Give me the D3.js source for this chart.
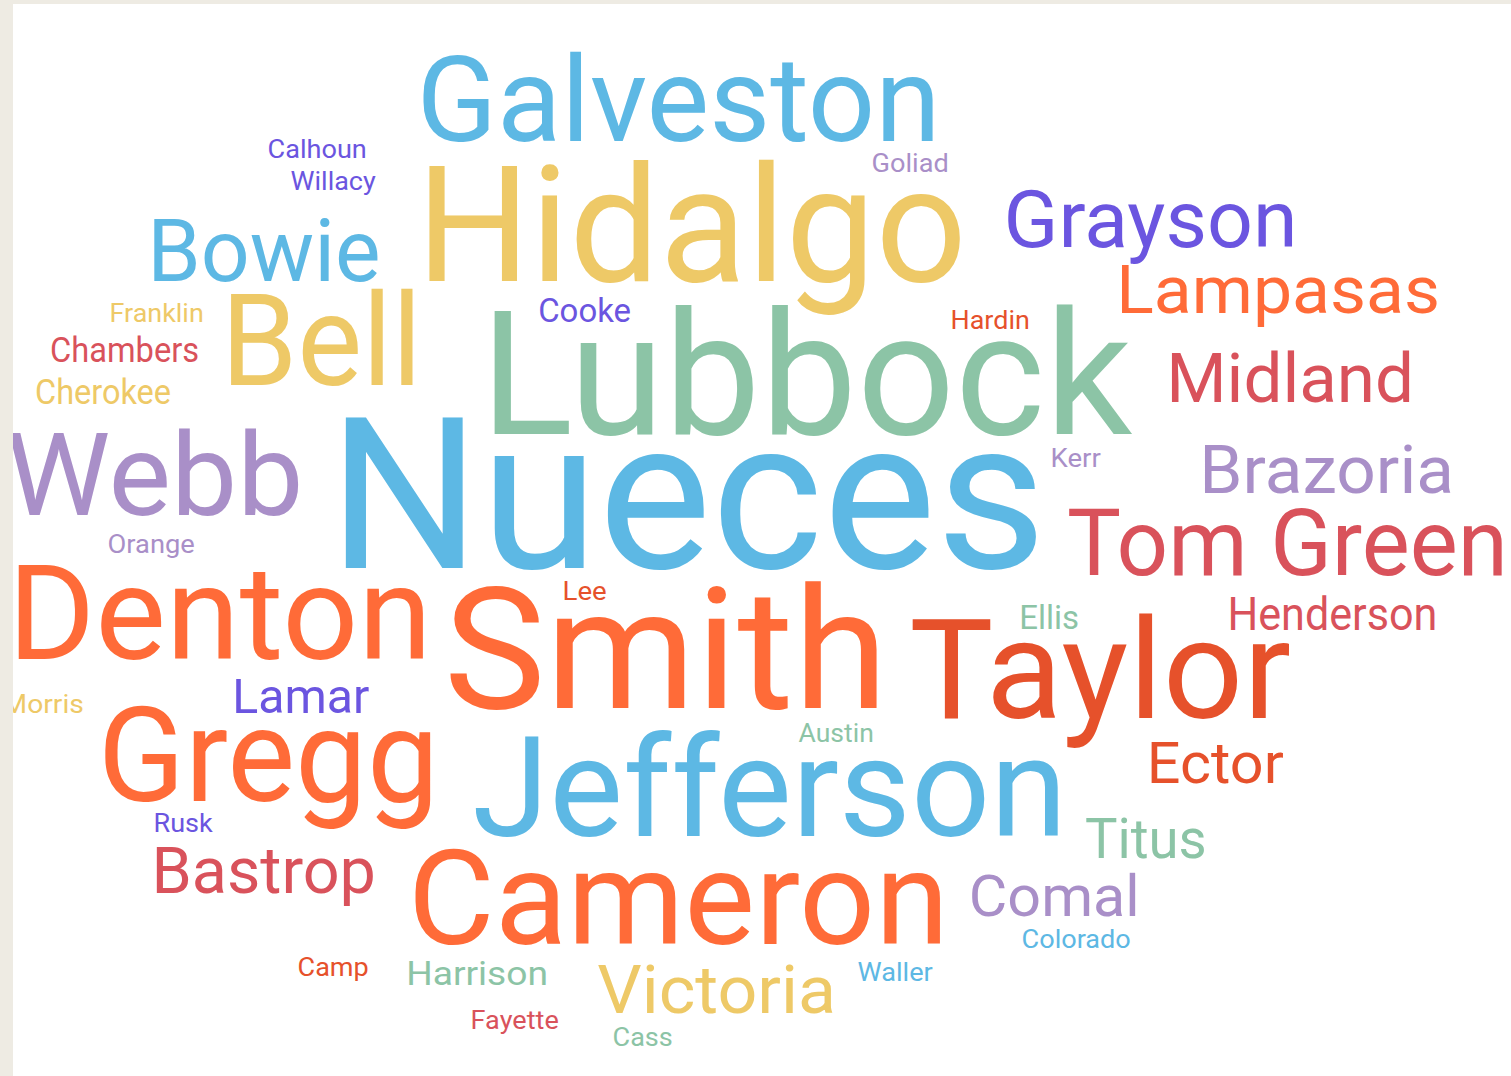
<!DOCTYPE html>
<html>
<head>
<meta charset="utf-8">
<script src="https://cdn.jsdelivr.net/npm/d3@7"></script>
<style>
  html, body { margin: 0; padding: 0; background: #eeebe3; overflow: hidden; }
  #myViz { position: absolute; left: 13px; top: 4px; right: 0; bottom: 0; background: #fff; }
  text { font-family: Roboto, "Noto Sans", sans-serif; }
</style>
</head>
<body>
<div id="myViz"></div>
<script>
// Datos: condados y su peso
const words = ['Nueces', 'Lubbock', 'Smith', 'Hidalgo', 'Jefferson', 'Taylor', 'Cameron', 'Denton',
  'Gregg', 'Bell', 'Galveston', 'Webb', 'Tom Green', 'Bowie', 'Grayson', 'Midland', 'Victoria',
  'Lampasas', 'Brazoria', 'Bastrop', 'Ector', 'Comal', 'Titus', 'Lamar', 'Henderson', 'Chambers',
  'Cherokee', 'Harrison', 'Cooke', 'Ellis', 'Calhoun', 'Willacy', 'Goliad', 'Hardin', 'Franklin',
  'Kerr', 'Orange', 'Lee', 'Morris', 'Austin', 'Rusk', 'Colorado', 'Camp', 'Waller', 'Fayette', 'Cass'];
const values = [100, 79, 77, 73, 61, 61, 57, 57,
  57, 55, 50, 48, 36, 34, 30, 24, 23,
  23, 23, 22, 18, 18, 17, 13, 12, 6,
  6, 5, 5, 5, 1, 1, 1, 1, 1,
  1, 1, 1, 1, 1, 1, 1, 1, 1, 1, 1];
const groups = ['blue', 'green', 'orange', 'yellow', 'blue', 'rust', 'orange', 'orange',
  'orange', 'yellow', 'blue', 'lavender', 'red', 'blue', 'purple', 'red', 'yellow',
  'orange', 'lavender', 'red', 'rust', 'lavender', 'green', 'purple', 'red', 'red',
  'yellow', 'green', 'purple', 'green', 'purple', 'purple', 'lavender', 'rust', 'yellow',
  'lavender', 'lavender', 'rust', 'yellow', 'green', 'purple', 'blue', 'rust', 'blue', 'red', 'green'];

// Disposición de la nube (borde izquierdo de la tinta, línea base, ancho de la tinta)
const layoutX = [340, 490, 453, 425, 480, 917, 415, 15,
  105, 228, 423, 12, 1072, 152, 1008, 1170, 601,
  1120, 1203, 155, 1150, 972, 1088, 235, 1230, 52,
  37, 408, 540, 1021, 269, 292, 873, 952, 111,
  1052, 109, 564, 4, 800, 155, 1023, 299, 859, 472, 614];
const layoutY = [568, 434, 708, 281, 836, 718, 944, 659,
  801, 385, 141, 515, 575, 281, 247, 402, 1013,
  313, 493, 893, 783, 916, 858, 713, 630, 362,
  404, 985, 322, 629, 158, 190, 172, 329, 322,
  467, 553, 600, 713, 742, 832, 948, 976, 981, 1029, 1046];
const layoutW = [700, 637, 430, 537, 583, 370, 530, 413,
  330, 190, 514, 288, 433, 226, 287, 242, 233,
  318, 249, 219, 132, 166, 117, 133, 206, 146,
  133, 139, 90, 57, 97, 83, 75, 77, 92,
  48, 85, 42, 79, 73, 57, 107, 69, 73, 86, 58];

const palette = {
  blue: '#5db8e4', green: '#8cc4a6', orange: '#ff6b38', yellow: '#eec967',
  rust: '#e6512b', lavender: '#a98fc8', red: '#d9525b', purple: '#6b55e0'
};

const drawViz = () => {
  const element = document.getElementById('myViz');
  const width = element.offsetWidth;
  const height = element.offsetHeight;

  d3.select('#myViz').selectAll('*').remove();

  const svg = d3.select('#myViz')
    .append('svg')
    .attr('width', width)
    .attr('height', height)
    .style('display', 'block');

  // Escalas: tamaño de fuente según valor, posiciones en coordenadas de página
  const sizeScale = d3.scaleLinear().domain([1, 100]).range([26, 212]);
  const xScale = d3.scaleLinear().domain([13, 13 + width]).range([0, width]);
  const yScale = d3.scaleLinear().domain([4, 4 + height]).range([0, height]);
  const colorScale = d3.scaleOrdinal()
    .domain(Object.keys(palette))
    .range(Object.values(palette));

  const data = words.map((w, i) => ({
    text: w, value: values[i], group: groups[i],
    x: layoutX[i], y: layoutY[i], w: layoutW[i]
  }));

  // Compensar los márgenes laterales de los glifos
  const bearingLeft = 0.055;
  const bearingRight = 0.03;

  svg.append('g')
    .attr('class', 'words')
    .selectAll('text')
    .data(data)
    .enter().append('text')
    .attr('x', d => xScale(d.x) - bearingLeft * sizeScale(d.value))
    .attr('y', d => yScale(d.y))
    .attr('font-size', d => sizeScale(d.value) + 'px')
    .attr('fill', d => colorScale(d.group))
    .attr('textLength', d => d.w + (bearingLeft + bearingRight) * sizeScale(d.value))
    .attr('lengthAdjust', 'spacingAndGlyphs')
    .text(d => d.text);
};

drawViz();
</script>
</body>
</html>
